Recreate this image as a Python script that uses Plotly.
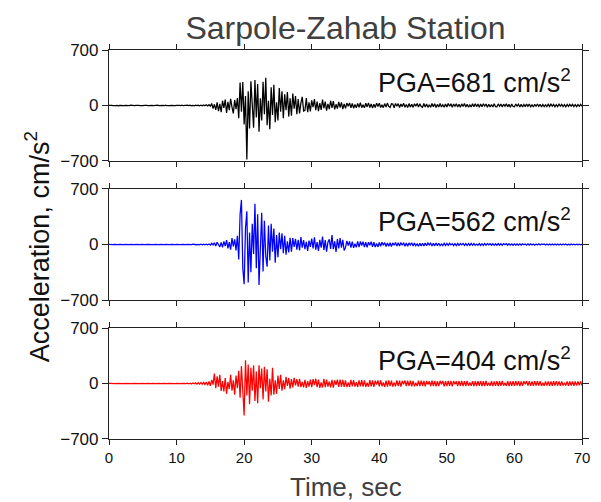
import numpy as np
import plotly.graph_objects as go
from plotly.subplots import make_subplots

DT = 0.2  # sampling step of the digitised records, seconds

acc_black = [
    2,-3,1,-2,3, -1,2,-3,2,-1, 3,-2,1,-3,2, -2,3,-1,2,-2, 1,-3,2,-1,3,
    -2,1,-3,2,-1, 3,-2,2,-3,1, -1,3,-2,1,-2, 2,-1,3,-3,2, -2,1,-2,3,-1,
    2,-3,1,-2,3, -3,2,-1,4,-2, 3,-4,2,-3,4, -2,5,-4,3,-5, 6,-4,8,-6,10,
    -8,25,-40,15,-55, 40,-70,20,-85,60, -30,75,-95,45,-60, 85,-20,-100,70,-45, 95,-160,290,-80,295,
    -240,120,-681,180,-290, 305,-60,-280,320,-150, 270,-330,90,-190,300, -110,349,-250,60,-300, 230,-120,260,-210,40,
    -190,220,-80,180,-160, 140,-60,170,-140,90, -130,150,-40,120,-110, 80,-100,30,110,-70, -60,95,-85,40,-75,
    65,-20,80,-60,50, -70,30,-55,75,-35, 50,-65,20,-45,60, -30,55,-50,15,-40, 45,-25,40,-45,20,
    -35,30,-10,32,-28, 25,-34,12,-30,26, -22,35,-28,10,-30, 28,-18,33,-25,20, -32,15,-26,30,-12,
    28,-25,8,-27,24, -20,30,-12,-25,22, 18,-28,26,-10,24, -26,20,-14,28,-22, 12,-25,24,-20,16,
    -24,22,-8,26,-20, 23,-12,-22,25,-18, 20,-24,10,-21,25, -16,22,-25,14,-20, 24,-18,9,-23,20,
    -20,24,-10,21,-23, 18,-9,22,-19,15, -22,20,-12,24,-18, 16,-21,8,-19,22, -17,21,-14,18,-23,
    20,-16,22,-8,19, -21,15,-20,12,-18, 22,-14,-17,20,-10, 18,-20,16,-9,21, -17,14,-21,18,-12,
    -16,19,-8,17,-18, 14,-20,12,-15,18, -10,17,-16,9,-18, 15,-13,19,-11,16, -18,12,-15,8,-14,
    16,-12,17,-9,14, -16,11,-13,17,-8, 15,-14,10,-16,13, -12,15,-8,14,-13, 11,-15,12,-10,14,
    -10,
]

acc_blue = [
    1,-2,2,-1,2, -2,1,-1,2,-2, 1,-2,2,-1,1, -1,2,-2,1,-2, 2,-1,1,-2,2,
    -1,2,-2,1,-1, 2,-1,2,-2,1, -2,1,-1,2,-1, 1,-2,2,-1,2, -2,1,-2,1,-1,
    2,-1,2,-2,1, -2,2,-1,2,-2, 1,-2,3,-2,2, -3,2,-3,4,-3, 3,-4,5,-4,6,
    -8,15,-5,22,-18, 28,-12,-30,25,-35, 40,-20,55,-48,30, -65,80,-25,65,-75, 110,-190,380,562,-300,
    -500,200,420,-480,150, -350,260,-120,515,-300, 380,-510,120,400,-340, 300,-150,-280,240,-200, 260,-90,200,-230,120,
    -160,150,-60,140,-110, 110,-130,40,-100,85, -90,80,-30,70,-65, 60,-75,95,-40,55, -60,35,-80,50,-30,
    75,-50,90,-65,30, -80,60,-40,100,-70, 55,-90,30,65,-55, 120,-60,40,-95,70, -50,80,-40,60,-75,
    -40,45,-15,40,-38, 35,-42,10,-36,40, -32,38,-12,35,-34, 30,-36,28,-10,35, -30,28,-33,12,-30,
    25,-22,28,-8,24, -25,20,-23,22,-26, 20,-10,25,-18,22, -20,24,-9,21,-23, 18,-21,20,-7,22,
    -18,20,-16,8,-21, 17,-19,15,-18,20, -16,18,-6,17,-19, 15,-17,18,-14,16, -15,7,-14,16,-13,
    14,-12,15,-5,11, -14,12,-13,15,-11, 13,-4,14,-11,12, -13,11,-12,14,-10, 12,-11,5,-10,11,
    -12,10,-11,13,-9, 11,-4,12,-9,10, -11,9,-10,12,-9, 10,-9,11,-3,10, -9,11,-8,9,-10,
    8,-9,7,-8,9, -7,8,-3,7,-8, 9,-7,8,-6,7, -8,6,-7,8,-6, 7,-2,6,-7,6,
    -6,7,-5,6,-7, 5,-6,7,-5,6, -5,6,-4,5,-6, 4,-5,6,-4,5, -4,5,-3,4,-5,
    3,
]

acc_red = [
    1,-1,2,-1,1, -2,1,-1,2,-1, 1,-2,1,-1,2, -1,1,-2,1,-1, 2,-1,1,-1,2,
    -1,2,-1,1,-2, 1,-1,2,-2,1, -1,2,-1,1,-2, 2,-1,1,-2,1, -1,2,-2,1,-1,
    2,-1,1,-2,2, -2,3,-2,4,-3, 4,-5,6,-4,8, -7,10,-8,12,-10, 15,-12,18,-22,25,
    -30,45,-15,126,-60, 90,-40,110,-95,30, -100,70,-130,20,-70, 110,-90,40,-140,100, -60,160,-180,220,-120,
    -404,294,-150,240,-260, 200,-90,231,-220,150, -250,230,-60,190,-200, 210,-100,180,-230,60, -150,200,-140,40,-130,
    100,-70,110,-90,40, -70,85,-30,70,-65, 55,-50,70,-25,55, -40,60,-45,20,-50, 45,-55,30,-40,50,
    -45,55,-20,60,-45, 50,-55,15,-50,60, -45,50,-40,25,-48, 45,-52,40,-16,50, -42,48,-38,45,-44,
    40,-45,12,-42,45, -36,42,-40,18,-44, 40,-35,43,-38,40, -42,10,-40,44,-37, 38,-42,35,-14,38,
    -36,40,-34,12,-42, 35,-38,40,-33,37, -39,14,-36,40,-32, 36,-38,33,-10,39, -34,36,-31,35,-37,
    33,-36,10,-32,35, -34,37,-31,34,-36, 32,-12,30,-34,36, -31,33,-35,30,-33, 34,-8,32,-35,31,
    -32,34,-30,33,-35, 31,-10,29,-32,34, -30,32,-34,29,-31, 33,-30,12,-28,31, -33,29,-31,30,-28,
    30,-32,28,-31,33, -29,10,-28,30,-32, 27,-30,29,-31,28, -30,32,-27,9,-30, 28,-31,27,-29,30,
    -28,30,-27,29,-31, 26,-29,28,-8,30, -26,28,-30,27,-29, 28,-26,29,-27,28, -30,10,-28,27,-26,
    27,-29,26,-28,30, -25,28,-27,26,-29, 27,-25,8,-26,27, -28,25,-27,26,-28, 25,-27,26,-24,27,
    -25,
]

records = [acc_black, acc_blue, acc_red]
colors = ["#000000", "#0000ff", "#ff0000"]
pga_labels = ["PGA=681 cm/s<sup>2</sup>", "PGA=562 cm/s<sup>2</sup>", "PGA=404 cm/s<sup>2</sup>"]
x_ticks = [0, 10, 20, 30, 40, 50, 60, 70]
y_ticks = [-700, 0, 700]

FONT = "Liberation Sans, Arial, sans-serif"
W, H = 593, 494  # page body has an 8 px margin inside the 601x502 window

fig = make_subplots(rows=3, cols=1, shared_xaxes=True)
for i, (rec, col) in enumerate(zip(records, colors)):
    t = np.arange(len(rec)) * DT
    fig.add_trace(go.Scatter(x=t, y=rec, mode="lines",
                             line=dict(color=col, width=1.25), showlegend=False,
                             hoverinfo="skip"), row=i + 1, col=1)

domains = [[0.7147, 1.0], [0.3573, 0.6427], [0.0, 0.2853]]
for i in range(3):
    n = "" if i == 0 else str(i + 1)
    fig.layout["yaxis" + n].update(
        domain=domains[i], range=[-700, 700], tickvals=y_ticks,
        ticks="outside", ticklen=6, tickwidth=1.2, tickcolor="#222",
        showline=True, linecolor="#222", linewidth=1.2, mirror="ticks",
        showgrid=False, zeroline=False,
        tickfont=dict(family=FONT, size=17, color="#111"))
    fig.layout["xaxis" + n].update(
        range=[0, 70], tickvals=x_ticks,
        ticks="outside", ticklen=5, tickwidth=1.2, tickcolor="#222",
        showline=True, linecolor="#222", linewidth=1.2, mirror="ticks",
        showgrid=False, zeroline=False, showticklabels=(i == 2),
        tickfont=dict(family=FONT, size=15, color="#111"))
    fig.add_annotation(text=pga_labels[i], xref=f"x{n} domain", yref=f"y{n} domain",
                       x=0.982, y=0.72, xanchor="right", yanchor="middle",
                       showarrow=False, font=dict(family=FONT, size=27, color="#111"))

fig.add_annotation(text="Time, sec", xref="paper", yref="paper", x=0.5, y=-0.1234,
                   xanchor="center", yanchor="middle", showarrow=False,
                   font=dict(family=FONT, size=26, color="#404040"))
fig.add_annotation(text="Acceleration, cm/s<sup>2</sup>", xref="paper", yref="paper",
                   x=-0.1518, y=0.4936, xanchor="center", yanchor="middle", textangle=-90,
                   showarrow=False, font=dict(family=FONT, size=27, color="#111"))

fig.update_layout(
    width=W, height=H,
    margin=dict(l=101, r=11, t=42, b=63),
    paper_bgcolor="white", plot_bgcolor="white",
    title=dict(text="Sarpole-Zahab Station", x=0.5, xref="paper", xanchor="center",
               y=1 - 19.5 / H, yref="container", yanchor="middle",
               font=dict(family=FONT, size=32, color="#404040")),
)

fig.write_html("out.html")
